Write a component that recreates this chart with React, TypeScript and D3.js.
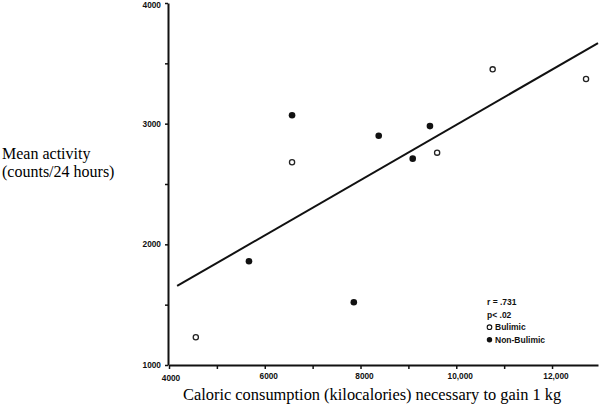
import React, { useRef, useEffect } from 'react'
import * as d3 from 'd3'

// caloric consumption (kcal to gain 1 kg) vs mean activity (counts/24 h)
const bulimicX = [4560, 6570, 9600, 10760, 12710]
const bulimicY = [1230, 2680, 2760, 3450, 3370]
const nonBulimicX = [5670, 6570, 7860, 8380, 9090, 9450]
const nonBulimicY = [1860, 3070, 1520, 2900, 2710, 2980]
const fitX = [4170, 12960]
const fitY = [1655, 3668]
const xTicks = [4000, 5000, 6000, 7000, 8000, 9000, 10000, 11000, 12000]
const xLabels = [4000, 6000, 8000, 10000, 12000]
const yTicks = [1000, 1500, 2000, 2500, 3000, 3500, 4000]
const yLabels = [1000, 2000, 3000, 4000]
const statLines = ['r = .731', 'p< .02']
const legendNames = ['Bulimic', 'Non-Bulimic']

const App = () => {
    const svgRef = useRef<SVGSVGElement>(null)

    useEffect(() => {
        const svg = d3.select(svgRef.current)
        svg.selectAll('*').remove()

        const xScale = d3.scaleLinear().domain([4000, 12960]).range([169, 598])
        const yScale = d3.scaleLinear().domain([1000, 4000]).range([365, 3])
        const tickFont = '"Liberation Sans", Arial, sans-serif'

        //x axis
        const gx = svg.append('g').attr('transform', `translate(0, ${yScale(1000)})`)
        gx.call(
            d3.axisBottom(xScale).tickValues(xTicks).tickSize(4).tickSizeOuter(0).tickFormat(() => '')
        )
        gx.select('.domain').attr('stroke-width', 2).attr('stroke', '#111')
        gx.selectAll('.tick line').attr('stroke-width', 1.5).attr('stroke', '#111')
        gx.selectAll('.tick-label')
            .data(xLabels)
            .enter()
            .append('text')
            .attr('x', (d) => xScale(d) + (d === 4000 ? 2 : 4))
            .attr('y', (d) => (d === 4000 ? 16 : 14))
            .attr('text-anchor', 'middle')
            .style('font-family', tickFont)
            .style('font-weight', 'bold')
            .style('font-size', '8.3px')
            .attr('fill', '#111')
            .text((d) => (d >= 10000 ? d3.format(',')(d) : String(d)))

        //y axis
        const gy = svg.append('g').attr('transform', `translate(${xScale(4000) - 1}, 0)`)
        gy.call(
            d3.axisLeft(yScale).tickValues(yTicks).tickSize(3).tickSizeOuter(0).tickFormat(() => '')
        )
        gy.select('.domain').attr('stroke-width', 2).attr('stroke', '#111')
        gy.selectAll('.tick line').attr('stroke-width', 1.5).attr('stroke', '#111')
        gy.selectAll('.tick-label')
            .data(yLabels)
            .enter()
            .append('text')
            .attr('x', -7)
            .attr('y', (d) => Math.max(yScale(d) + 3, 8))
            .attr('text-anchor', 'end')
            .style('font-family', tickFont)
            .style('font-weight', 'bold')
            .style('font-size', '8.3px')
            .attr('fill', '#111')
            .text((d) => String(d))

        //regression line
        const line = d3
            .line<number>()
            .x((d) => xScale(d))
            .y((_, i) => yScale(fitY[i]))
        svg.append('path')
            .datum(fitX)
            .attr('fill', 'none')
            .attr('stroke', '#111')
            .attr('stroke-width', 2)
            .attr('d', line)

        //points
        svg.selectAll('.open')
            .data(bulimicX)
            .enter()
            .append('circle')
            .attr('cx', (d) => xScale(d))
            .attr('cy', (_, i) => yScale(bulimicY[i]))
            .attr('r', 2.6)
            .attr('fill', '#fff')
            .attr('stroke', '#222')
            .attr('stroke-width', 1.3)

        svg.selectAll('.filled')
            .data(nonBulimicX)
            .enter()
            .append('circle')
            .attr('cx', (d) => xScale(d))
            .attr('cy', (_, i) => yScale(nonBulimicY[i]))
            .attr('r', 3.3)
            .attr('fill', '#111')

        //legend
        const lg = svg.append('g').attr('transform', 'translate(487, 305)')
        lg.selectAll('.stat')
            .data(statLines)
            .enter()
            .append('text')
            .attr('x', 0)
            .attr('y', (_, i) => i * 13)
            .style('font-family', tickFont)
            .style('font-weight', 'bold')
            .style('font-size', '8.5px')
            .attr('fill', '#111')
            .text((d) => d)
        legendNames.forEach((name, i) => {
            const y = 25 + i * 12.5
            lg.append('circle')
                .attr('cx', 2.5)
                .attr('cy', y - 2.8)
                .attr('r', i === 0 ? 2.3 : 2.7)
                .attr('fill', i === 0 ? '#fff' : '#111')
                .attr('stroke', '#111')
                .attr('stroke-width', i === 0 ? 1.1 : 0)
            lg.append('text')
                .attr('x', 8)
                .attr('y', y)
                .style('font-family', tickFont)
                .style('font-weight', 'bold')
                .style('font-size', '8.5px')
                .attr('fill', '#111')
                .text(name)
        })

        //axis titles
        const titleFont = '"Liberation Serif", "Times New Roman", serif'
        svg.append('text')
            .attr('x', 2)
            .attr('y', 159)
            .style('font-family', titleFont)
            .style('font-size', '16px')
            .text('Mean activity')
        svg.append('text')
            .attr('x', 2)
            .attr('y', 177)
            .style('font-family', titleFont)
            .style('font-size', '16px')
            .text('(counts/24 hours)')
        svg.append('text')
            .attr('x', 183)
            .attr('y', 400)
            .style('font-family', titleFont)
            .style('font-size', '16.4px')
            .text('Caloric consumption (kilocalories) necessary to gain 1 kg')
    }, [])

    return (
        <svg
            ref={svgRef}
            width={600}
            height={412}
            style={{ position: 'absolute', left: 0, top: 0, background: '#fff' }}
        />
    )
}

export default App
